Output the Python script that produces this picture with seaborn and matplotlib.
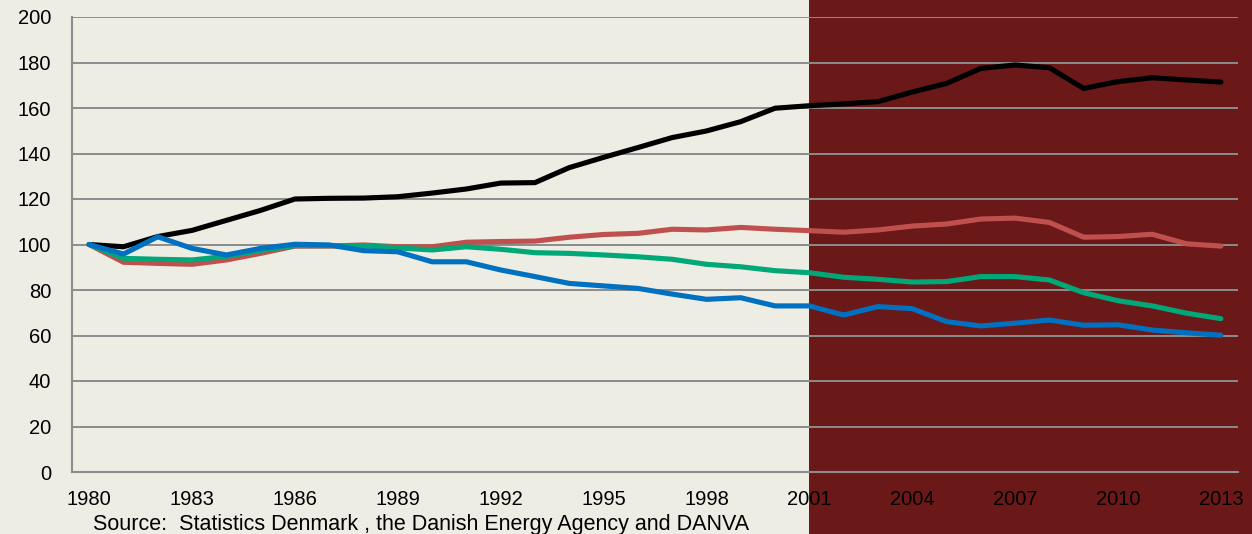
import numpy as np
import pandas as pd
import matplotlib
matplotlib.use('Agg')
import matplotlib.pyplot as plt
from matplotlib.patches import Rectangle
import seaborn as sns

# Index values (1980 = 100)
years = list(range(1980, 2014))
black_series = [100, 99.0, 103.5, 106.2, 110.6, 115.0, 120.0, 120.3, 120.4, 121.0,
                122.6, 124.4, 127.0, 127.2, 133.8, 138.3, 142.6, 147.0, 149.9, 154.0,
                159.9, 161.0, 161.8, 162.8, 167.0, 170.8, 177.4, 178.9, 177.7, 168.6,
                171.6, 173.3, 172.3, 171.4]
red_series = [100, 92.2, 91.7, 91.3, 93.2, 96.1, 99.3, 99.3, 99.8, 99.0,
              99.0, 101.0, 101.3, 101.5, 103.2, 104.4, 104.9, 106.7, 106.4, 107.5,
              106.7, 106.1, 105.4, 106.4, 108.1, 109.0, 111.2, 111.6, 109.7, 103.2,
              103.5, 104.5, 100.3, 99.3]
green_series = [100, 93.9, 93.5, 93.2, 94.8, 97.4, 99.5, 99.5, 99.5, 98.5,
                97.6, 99.0, 97.9, 96.4, 96.1, 95.4, 94.6, 93.5, 91.3, 90.2,
                88.5, 87.6, 85.6, 84.7, 83.5, 83.7, 85.9, 85.9, 84.4, 78.8,
                75.3, 73.0, 69.8, 67.4]
blue_series = [100, 95.8, 103.4, 98.3, 95.4, 98.3, 100.1, 99.8, 97.3, 96.8,
               92.4, 92.4, 88.8, 85.9, 82.9, 81.8, 80.7, 78.2, 75.9, 76.6,
               73.0, 73.0, 69.0, 72.7, 71.8, 66.1, 64.2, 65.4, 66.8, 64.5,
               64.7, 62.4, 61.2, 60.1]
label_years = list(range(1980, 2014, 3))
y_ticks = list(range(0, 201, 20))
shade_from = 2001
source_text = "Source:  Statistics Denmark , the Danish Energy Agency and DANVA"

colors = {'black': '#000000', 'red': '#C0504D', 'green': '#00A878', 'blue': '#0070C0'}

df = pd.DataFrame({
    'year': years * 4,
    'value': black_series + red_series + green_series + blue_series,
    'series': ['black'] * 34 + ['red'] * 34 + ['green'] * 34 + ['blue'] * 34,
})

sns.set_style('white')
plt.rcParams['font.family'] = ['Liberation Sans', 'DejaVu Sans']
plt.rcParams['text.color'] = 'black'
plt.rcParams['xtick.color'] = 'black'
plt.rcParams['ytick.color'] = 'black'

fig = plt.figure(figsize=(12.52, 5.34), dpi=100, facecolor='#EEEDE3')
ax = fig.add_axes([72 / 1252, 1 - 472 / 534, (1238 - 72) / 1252, (472 - 17) / 534])
ax.set_facecolor('none')
ax.set_zorder(2)

sns.lineplot(data=df, x='year', y='value', hue='series', palette=colors,
             linewidth=3.7, legend=False, ax=ax, zorder=3)

ax.set_xlim(years[0] - 0.5, years[-1] + 0.5)
ax.set_ylim(0, 200)
ax.set_xticks(label_years)
ax.set_xticks(np.arange(years[0] - 0.5, years[-1] + 0.6, 4), minor=True)
ax.set_yticks(y_ticks)
ax.set_xlabel('')
ax.set_ylabel('')
ax.tick_params(axis='x', which='major', length=0, pad=13, labelsize=14.5, labelcolor='black')
ax.tick_params(axis='x', which='minor', length=6, width=1.5, color='#8C8C8C')
ax.tick_params(axis='y', length=6, width=1.5, color='#8C8C8C', pad=9, labelsize=14.5,
               labelcolor='black')
ax.grid(axis='y', color='#8C8C8C', linewidth=1.4, zorder=1)
ax.grid(axis='x', visible=False)
for side in ['top', 'right']:
    ax.spines[side].set_visible(False)
for side in ['left', 'bottom']:
    ax.spines[side].set_color('#8C8C8C')
    ax.spines[side].set_linewidth(1.5)

# dark red panel from 2001 to the right edge of the figure
fig.canvas.draw()
x0_disp = ax.transData.transform((shade_from, 0))[0]
x0_fig = fig.transFigure.inverted().transform((x0_disp, 0))[0]
fig.patches.append(Rectangle((x0_fig, 0), 1 - x0_fig, 1, transform=fig.transFigure,
                             facecolor='#6A1818', edgecolor='none', zorder=0))

fig.text(93 / 1252, 1 - 530 / 534, source_text, fontsize=15.5, va='baseline', ha='left',
         color='black')

fig.savefig('out.png', dpi=100, facecolor=fig.get_facecolor())
